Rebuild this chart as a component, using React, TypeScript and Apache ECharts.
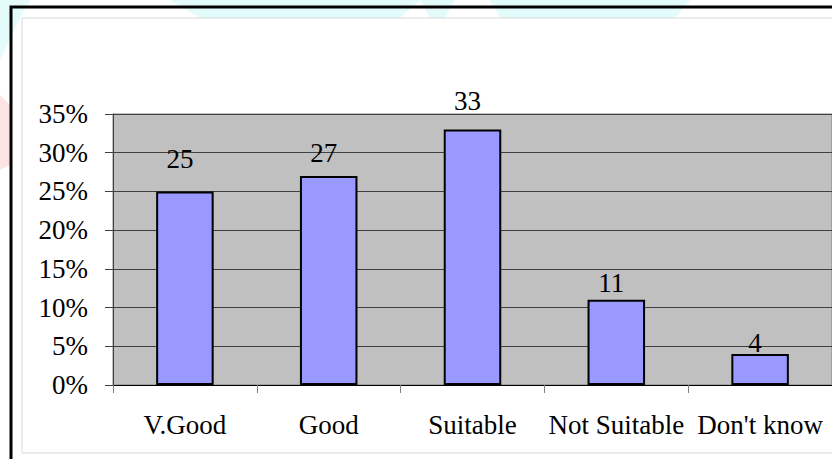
import React, { useEffect, useRef } from "react";
import * as echarts from "echarts";

const categories = ["V.Good", "Good", "Suitable", "Not Suitable", "Don't know"];
const values = [25, 27, 33, 11, 4];
const yTicks = { min: 0, max: 35, interval: 5 };
// per-bar label lift (style only), in px
const labelLift = [19, 9, 15, 3, -2];

const FONT = "'Liberation Serif', 'Times New Roman', serif";
const FS = 27;

export default function App() {
  const ref = useRef<HTMLDivElement>(null);
  useEffect(() => {
    if (!ref.current) return;
    const chart = echarts.init(ref.current, null, { renderer: "svg" });
    const cyan = "#e3fbfb";
    chart.setOption({
      animation: false,
      backgroundColor: "#ffffff",
      graphic: {
        elements: [
          { type: "polygon", z: -30, silent: true, shape: { points: [[0, 0], [30, 0], [20, 18], [0, 60]] }, style: { fill: cyan } },
          { type: "polygon", z: -30, silent: true, shape: { points: [[170, 0], [420, 0], [400, 18], [200, 18]] }, style: { fill: cyan } },
          { type: "polygon", z: -30, silent: true, shape: { points: [[420, 0], [455, 0], [445, 18], [430, 18]] }, style: { fill: cyan } },
          { type: "polygon", z: -30, silent: true, shape: { points: [[490, 0], [690, 0], [675, 18], [500, 18]] }, style: { fill: cyan } },
          { type: "polygon", z: -30, silent: true, shape: { points: [[0, 95], [10, 105], [10, 165], [0, 170]] }, style: { fill: "#fde4e4" } },
          { type: "rect", z: -20, silent: true, shape: { x: 22, y: 18, width: 900, height: 435 }, style: { fill: "#ffffff", stroke: "#d9d9d9", lineWidth: 1 } },
          { type: "rect", z: -10, silent: true, shape: { x: 11, y: 7, width: 900, height: 500 }, style: { fill: "none", stroke: "#000000", lineWidth: 3 } },
        ],
      },
      grid: {
        left: 113,
        top: 114,
        width: 721,
        height: 271,
        show: true,
        backgroundColor: "#c0c0c0",
        borderColor: "#808080",
        borderWidth: 1,
        containLabel: false,
      },
      xAxis: {
        type: "category",
        data: categories,
        axisLine: { show: true, lineStyle: { color: "#000000", width: 1 } },
        axisTick: { show: true, length: 8, alignWithLabel: false, interval: 0, lineStyle: { color: "#808080" } },
        axisLabel: {
          interval: 0,
          hideOverlap: false,
          margin: 26,
          fontSize: FS,
          fontFamily: FONT,
          color: "#000000",
        },
        splitLine: { show: false },
      },
      yAxis: {
        type: "value",
        min: yTicks.min,
        max: yTicks.max,
        interval: yTicks.interval,
        axisLine: { show: true, lineStyle: { color: "#404040", width: 1 } },
        axisTick: { show: true, length: 8, lineStyle: { color: "#404040" } },
        axisLabel: {
          formatter: "{value}%",
          margin: 25,
          fontSize: FS,
          fontFamily: FONT,
          color: "#000000",
        },
        splitLine: { show: true, lineStyle: { color: "#404040", width: 1 } },
      },
      series: [
        {
          type: "bar",
          barWidth: "40%",
          data: values.map((v, i) => ({
            value: v,
            label: { distance: labelLift[i] },
          })),
          itemStyle: { color: "#9999ff", borderColor: "#000000", borderWidth: 2 },
          label: {
            show: true,
            position: "top",
            offset: [-5, 0],
            fontSize: FS,
            fontFamily: FONT,
            color: "#000000",
          },
        },
      ],
    });
    return () => chart.dispose();
  }, []);
  return (
    <div
      ref={ref}
      style={{ position: "fixed", left: 0, top: 0, width: 832, height: 459 }}
    />
  );
}
